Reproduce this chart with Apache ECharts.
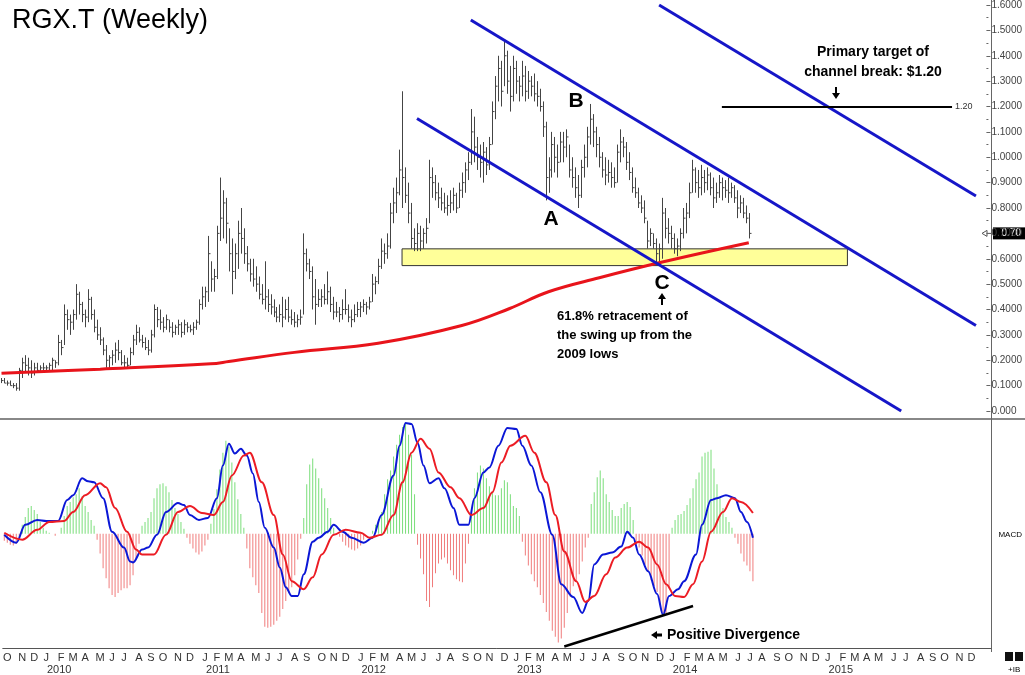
<!DOCTYPE html>
<html>
<head>
<meta charset="utf-8">
<title>RGX.T (Weekly)</title>
<script src="https://cdn.jsdelivr.net/npm/echarts@6.0.0/dist/echarts.min.js"></script>
<style>
  html, body { margin: 0; padding: 0; background: #fff; }
  #main { width: 1025px; height: 675px; }
</style>
</head>
<body>
<div id="main"></div>
<script>
// weekly bars, index 0 = week of 2009-09-25
var highs = [
  .13,.13,.12,.12,.11,.11,.17,.21,.22,.21,
  .20,.19,.19,.18,.19,.18,.19,.21,.20,.30,
  .28,.42,.40,.38,.40,.50,.47,.43,.40,.48,
  .45,.40,.36,.33,.29,.26,.22,.24,.27,.28,
  .24,.22,.21,.25,.30,.34,.33,.30,.29,.28,
  .32,.42,.41,.40,.37,.38,.36,.35,.34,.36,
  .35,.36,.35,.34,.35,.36,.44,.49,.49,.69,
  .59,.56,.73,.92,.87,.84,.72,.68,.66,.75,
  .80,.72,.65,.60,.60,.57,.53,.50,.59,.48,
  .46,.44,.41,.42,.45,.44,.45,.40,.39,.38,
  .40,.70,.64,.60,.57,.52,.48,.48,.50,.55,
  .49,.45,.43,.41,.44,.48,.42,.40,.42,.43,
  .43,.44,.43,.45,.54,.53,.60,.68,.66,.70,
  .82,.88,.92,1.03,1.26,.96,.90,.82,.72,.74,
  .73,.72,.76,.99,.96,.93,.90,.88,.86,.85,
  .87,.88,.86,.90,.94,.98,1.02,1.19,1.16,1.08,
  1.05,1.06,1.04,1.08,1.22,1.32,1.40,1.38,1.46,1.42,
  1.36,1.40,1.38,1.32,1.38,1.36,1.34,1.32,1.33,1.30,
  1.27,1.22,1.14,1.00,1.10,1.08,1.05,1.10,1.10,1.11,
  1.05,1.00,.96,.93,.99,1.05,1.12,1.21,1.17,1.12,
  1.08,1.02,1.00,.99,.98,.96,1.05,1.11,1.08,1.06,
  1.02,.96,.92,.88,.85,.83,.75,.72,.70,.68,
  .66,.84,.80,.76,.73,.70,.68,.72,.80,.82,
  .90,.99,.96,.95,.97,.95,.96,.94,.92,.90,
  .93,.92,.91,.92,.90,.89,.87,.85,.84,.81,
  .78
];
var lows = [
  .11,.11,.10,.10,.09,.08,.08,.13,.15,.14,
  .13,.14,.15,.15,.15,.16,.16,.16,.17,.18,
  .22,.26,.32,.30,.32,.36,.38,.35,.33,.35,
  .36,.31,.28,.26,.22,.17,.17,.18,.19,.20,
  .18,.17,.17,.18,.22,.26,.27,.25,.24,.22,
  .23,.29,.33,.32,.31,.32,.31,.29,.30,.30,
  .29,.30,.31,.31,.30,.32,.34,.40,.41,.43,
  .47,.47,.52,.67,.68,.66,.55,.46,.52,.56,
  .62,.58,.55,.51,.49,.47,.44,.42,.40,.39,
  .38,.37,.35,.35,.33,.36,.35,.34,.33,.33,
  .34,.38,.55,.52,.40,.34,.41,.41,.42,.42,
  .39,.36,.37,.35,.36,.38,.35,.33,.35,.37,
  .37,.39,.38,.40,.43,.46,.50,.56,.58,.60,
  .64,.74,.78,.85,.80,.82,.74,.64,.63,.63,
  .63,.64,.66,.74,.84,.83,.80,.79,.78,.77,
  .78,.79,.78,.80,.84,.86,.91,.97,.98,.95,
  .92,.90,.93,.95,1.05,1.15,1.22,1.20,1.28,1.25,
  1.18,1.22,1.25,1.22,1.24,1.22,1.23,1.24,1.22,1.20,
  1.18,1.08,.83,.86,.92,.94,.92,.98,.98,1.00,
  .92,.88,.84,.80,.84,.92,.96,1.05,1.04,1.00,
  .96,.92,.89,.90,.88,.88,.90,.98,1.00,.95,
  .91,.86,.84,.80,.78,.74,.64,.65,.64,.58,
  .58,.60,.68,.66,.64,.62,.61,.63,.68,.70,
  .76,.86,.86,.84,.85,.86,.87,.85,.80,.82,
  .84,.83,.84,.82,.84,.82,.76,.78,.76,.74,
  .68
];
var closes = [
  .12,.11,.11,.10,.10,.09,.16,.19,.18,.17,
  .15,.17,.16,.17,.17,.17,.18,.20,.19,.27,
  .25,.38,.36,.35,.38,.46,.42,.38,.37,.44,
  .38,.33,.30,.28,.24,.20,.21,.22,.24,.23,
  .19,.19,.18,.23,.28,.31,.28,.27,.25,.24,
  .30,.40,.36,.35,.33,.36,.33,.31,.33,.34,
  .31,.34,.33,.32,.33,.35,.42,.45,.47,.62,
  .52,.53,.70,.76,.82,.74,.62,.55,.62,.70,
  .68,.62,.58,.54,.52,.50,.46,.44,.45,.42,
  .41,.39,.37,.38,.37,.40,.37,.36,.35,.36,
  .37,.62,.58,.55,.45,.42,.44,.45,.44,.47,
  .42,.39,.39,.38,.40,.40,.37,.36,.38,.40,
  .41,.42,.41,.43,.50,.51,.57,.63,.62,.65,
  .78,.82,.86,.95,.92,.85,.78,.68,.66,.70,
  .67,.70,.72,.92,.90,.86,.84,.82,.80,.81,
  .82,.85,.80,.87,.90,.95,.98,1.10,1.04,1.00,
  .98,1.02,.97,1.05,1.18,1.28,1.35,1.26,1.40,1.30,
  1.24,1.35,1.30,1.28,1.32,1.26,1.30,1.28,1.25,1.24,
  1.20,1.12,.92,.95,1.05,1.00,.98,1.06,1.04,1.08,
  .95,.92,.88,.85,.96,1.00,1.08,1.15,1.10,1.05,
  1.00,.95,.93,.94,.92,.90,1.02,1.06,1.04,.98,
  .94,.88,.86,.82,.80,.76,.67,.70,.66,.62,
  .64,.78,.72,.70,.68,.64,.65,.70,.76,.78,
  .86,.95,.90,.88,.92,.90,.93,.88,.84,.86,
  .90,.88,.87,.86,.88,.84,.80,.82,.78,.76,
  .70
];

// moving average, read at [week index, price]
var maPoints = [
  [0,.149],[33,.165],[70,.186],[76,.195],[98,.231],[126,.267],[154,.337],
  [170,.404],[183,.47],[200,.525],[220,.584],[250,.663]
];

// MACD histogram, one bar per week (panel units)
var macdHist = [
  -7,-9,-11,-12,-10,-3,9,17,26,28,
  24,20,12,6,3,1,0,-2,0,6,
  18,28,32,37,40,46,38,28,22,14,
  8,-6,-20,-35,-45,-55,-62,-64,-60,-57,
  -55,-55,-52,-42,-25,-10,8,12,16,22,
  36,46,50,51,48,42,34,26,20,12,
  5,-4,-10,-15,-19,-21,-18,-12,-6,10,
  25,45,65,82,94,88,72,52,35,20,
  6,-15,-35,-44,-52,-60,-80,-94,-95,-94,
  -92,-88,-84,-76,-68,-60,-54,-42,-26,-5,
  16,50,70,76,66,56,46,36,26,16,
  6,0,-3,-8,-12,-14,-16,-17,-15,-12,
  -6,0,0,3,9,15,22,40,55,64,
  78,90,100,108,112,100,80,40,-11,-25,
  -41,-68,-74,-54,-40,-30,-26,-24,-30,-37,
  -42,-46,-48,-49,-30,-10,20,46,62,69,
  66,56,48,42,39,39,46,54,52,40,
  28,26,18,-8,-22,-32,-41,-48,-54,-62,
  -70,-79,-88,-98,-104,-110,-106,-95,-80,-64,
  -53,-48,-41,-28,-14,-4,30,42,57,64,
  56,40,32,24,18,18,26,30,32,27,
  14,-8,-14,-22,-31,-38,-47,-53,-59,-72,
  -80,-80,-55,6,14,19,20,23,29,36,
  46,55,62,78,82,83,85,66,50,36,
  26,17,12,6,-4,-10,-20,-28,-32,-38,
  -48
];

// MACD line and signal line, read at [week index, value]
var macdLine = [
  [0,-1],[4,-9],[7,9],[11,14],[14,13],[18,13],[21,34],[23,39],[26,56],[28,53],
  [30,52],[33,36],[36,2],[40,-14],[42,-28],[43,-29],[46,-16],[48,-14],[51,-1],[54,22],
  [58,31],[60,29],[62,19],[65,14],[68,16],[71,36],[73,69],[75,91],[77,81],[79,86],
  [81,79],[83,61],[85,32],[87,6],[90,-14],[92,-34],[94,-54],[96,-63],[98,-63],[100,-41],
  [103,-8],[105,-4],[108,2],[110,9],[113,2],[116,-4],[120,-9],[123,-4],[126,19],[130,59],
  [132,89],[134,112],[136,111],[138,92],[140,69],[142,51],[145,56],[147,46],[150,26],[152,9],
  [155,9],[157,36],[160,62],[162,67],[165,89],[168,107],[171,106],[173,89],[176,69],[179,42],
  [183,-1],[186,-51],[190,-64],[193,-80],[195,-68],[197,-31],[200,-21],[203,-19],[206,-13],[208,2],
  [210,-4],[212,-21],[215,-38],[218,-61],[220,-82],[222,-63],[225,-56],[227,-48],[231,-21],[233,9],
  [236,34],[238,36],[241,39],[244,36],[246,22],[248,12],[250,-4]
];
var signalLine = [
  [0,1],[6,-6],[11,4],[15,12],[20,13],[23,22],[27,39],[32,51],[34,47],[37,26],
  [41,2],[44,-16],[46,-21],[50,-21],[54,-1],[58,22],[62,28],[66,21],[70,19],[73,32],
  [76,59],[80,79],[82,82],[86,52],[90,19],[93,-21],[96,-48],[100,-56],[103,-44],[106,-21],
  [110,-1],[114,4],[119,1],[122,-4],[126,-1],[130,19],[133,52],[136,82],[139,96],[142,86],
  [145,62],[149,47],[152,36],[156,19],[160,26],[163,42],[166,72],[169,89],[174,99],[177,82],
  [181,52],[184,19],[187,-18],[191,-48],[194,-69],[197,-63],[201,-41],[204,-24],[208,-14],[212,-8],
  [215,-14],[218,-31],[221,-51],[224,-63],[227,-64],[230,-51],[233,-28],[236,2],[240,22],[243,36],
  [246,32],[250,21]
];

// drawn lines: [[i, price], [i, price]]
var channelLines = [
  [[219.5, 1.600], [325.5, 0.847]],
  [[157.2, 1.541], [325.5, 0.337]],
  [[138.8, 1.153], [301.4, 0.000]]
];
var targetLine = [[240.8, 1.20], [317.8, 1.20]];
var supportZone = [[133.5, 0.639], [282.5, 0.573]];
var divergenceLine = [[186.7, -114], [229.7, -73]];

var priceTicks = { min: 0, max: 1.6, step: 0.1 };
var monthLetters = ['J','F','M','A','M','J','J','A','S','O','N','D'];

var NWEEKS = 330;
var weeks = [];
var start = Date.UTC(2009, 8, 25);
for (var w = 0; w < NWEEKS; w++) {
  weeks.push(new Date(start + w * 7 * 86400000).toISOString().slice(0, 10));
}
function monthOf(i) { return +weeks[i].slice(5, 7) - 1; }
function isMonthStart(i) { return i === 0 || monthOf(i) !== monthOf(i - 1); }

var priceData = highs.map(function (h, i) { return [i, h, lows[i], closes[i]]; });

function renderBar(params, api) {
  var i = api.value(0);
  var top = api.coord([i, api.value(1)]);
  var bot = api.coord([i, api.value(2)]);
  var cls = api.coord([i, api.value(3)]);
  var x = Math.round(top[0]) + 0.5;
  return {
    type: 'group',
    children: [
      { type: 'line', shape: { x1: x, y1: top[1], x2: x, y2: bot[1] }, style: { stroke: '#444', lineWidth: 1 } },
      { type: 'line', shape: { x1: x, y1: cls[1], x2: x + 2, y2: cls[1] }, style: { stroke: '#444', lineWidth: 1 } }
    ]
  };
}

var FONT = 'Arial, "Liberation Sans", sans-serif';

function txt(x, y, s, font, align) {
  return { type: 'text', x: x, y: y, silent: true,
    style: { text: s, font: font, fill: '#000', align: align || 'left', verticalAlign: 'middle',
             textAlign: align || 'left', textVerticalAlign: 'middle' } };
}
function arrow(x, y, dir) {
  // small filled arrow, tip at (x, y)
  var pts;
  if (dir === 'up') pts = [[x, y], [x - 4, y + 6], [x - 1, y + 6], [x - 1, y + 12], [x + 1, y + 12], [x + 1, y + 6], [x + 4, y + 6]];
  else if (dir === 'down') pts = [[x, y], [x - 4, y - 6], [x - 1, y - 6], [x - 1, y - 12], [x + 1, y - 12], [x + 1, y - 6], [x + 4, y - 6]];
  else pts = [[x, y], [x + 6, y - 4], [x + 6, y - 1.5], [x + 11, y - 1.5], [x + 11, y + 1.5], [x + 6, y + 1.5], [x + 6, y + 4]];
  return { type: 'polygon', silent: true, shape: { points: pts }, style: { fill: '#000' } };
}

var annotations = [
  { type: 'line', silent: true, shape: { x1: 0, y1: 419, x2: 1025, y2: 419 }, style: { stroke: '#888', lineWidth: 2 } },
  { type: 'line', silent: true, shape: { x1: 991.5, y1: 0, x2: 991.5, y2: 652 }, style: { stroke: '#666', lineWidth: 1 } },
  txt(12, 21, 'RGX.T (Weekly)', 'normal 27px ' + FONT),
  txt(551, 219, 'A', 'bold 21px ' + FONT, 'center'),
  txt(576, 101, 'B', 'bold 21px ' + FONT, 'center'),
  txt(662, 283, 'C', 'bold 21px ' + FONT, 'center'),
  arrow(662, 293, 'up'),
  txt(873, 52, 'Primary target of', 'bold 14px ' + FONT, 'center'),
  txt(873, 72, 'channel break: $1.20', 'bold 14px ' + FONT, 'center'),
  arrow(836, 99, 'down'),
  txt(557, 316, '61.8% retracement of', 'bold 13px ' + FONT),
  txt(557, 335, 'the swing up from the', 'bold 13px ' + FONT),
  txt(557, 354, '2009 lows', 'bold 13px ' + FONT),
  arrow(651, 635, 'left'),
  txt(667, 635, 'Positive Divergence', 'bold 14px ' + FONT),
  txt(1022, 535, 'MACD', 'normal 8px ' + FONT, 'right'),
  { type: 'rect', silent: true, shape: { x: 1005, y: 652, width: 8, height: 9 }, style: { fill: '#111' } },
  { type: 'rect', silent: true, shape: { x: 1015, y: 652, width: 8, height: 9 }, style: { fill: '#111' } },
  txt(1008, 670, '+IB', 'normal 8px ' + FONT)
];

var chart = echarts.init(document.getElementById('main'));
chart.setOption({
  animation: false,
  backgroundColor: '#fff',
  textStyle: { fontFamily: FONT },
  grid: [
    { left: 0, right: 34, top: 3, bottom: 264 },
    { left: 0, right: 34, top: 419, bottom: 25 }
  ],
  xAxis: [
    { type: 'category', gridIndex: 0, data: weeks, show: false },
    { type: 'category', gridIndex: 1, data: weeks,
      axisLine: { onZero: false, lineStyle: { color: '#555', width: 1 } },
      axisTick: { alignWithLabel: true, length: 4, interval: function (i) { return isMonthStart(i); }, lineStyle: { color: '#555' } },
      axisLabel: {
        interval: function (i) { return isMonthStart(i); },
        margin: 3,
        formatter: function (v) {
          var m = +v.slice(5, 7) - 1;
          var s = '{m|' + monthLetters[m] + '}';
          if (m === 0) s += '\n{y|' + v.slice(0, 4) + '}';
          return s;
        },
        rich: {
          m: { fontSize: 11, color: '#333', lineHeight: 12, fontFamily: FONT },
          y: { fontSize: 11, color: '#333', lineHeight: 12, fontFamily: FONT, padding: [0, 0, 0, 26] }
        }
      }
    }
  ],
  yAxis: [
    { type: 'value', gridIndex: 0, position: 'right', min: priceTicks.min, max: priceTicks.max, interval: priceTicks.step,
      axisLine: { show: false },
      axisTick: { show: true, length: 4, lineStyle: { color: '#666' } },
      minorTick: { show: true, splitNumber: 2, length: 2, lineStyle: { color: '#666' } },
      splitLine: { show: false },
      axisLabel: { margin: 5, fontSize: 10, color: '#444',
        formatter: function (v) { return v === 0 ? '0.000' : v.toFixed(4); } } },
    { type: 'value', gridIndex: 1, position: 'right', min: -116, max: 116,
      axisLine: { show: false }, axisTick: { show: false }, axisLabel: { show: false }, splitLine: { show: false } }
  ],
  series: [
    { name: 'zone', type: 'line', xAxisIndex: 0, yAxisIndex: 0, data: [], z: 1, silent: true,
      markArea: { silent: true, itemStyle: { color: '#ffff99', borderColor: '#333', borderWidth: 1 },
        data: [[{ coord: supportZone[0] }, { coord: supportZone[1] }]] } },
    { name: 'price', type: 'custom', xAxisIndex: 0, yAxisIndex: 0, renderItem: renderBar,
      data: priceData, encode: { x: 0, y: [1, 2, 3] }, z: 2, silent: true },
    { name: 'ma', type: 'line', xAxisIndex: 0, yAxisIndex: 0, data: maPoints, smooth: 0.4, showSymbol: false,
      lineStyle: { color: '#e8141b', width: 3 }, z: 3, silent: true },
    { name: 'channels', type: 'line', xAxisIndex: 0, yAxisIndex: 0, data: [], z: 4, silent: true,
      markLine: { silent: true, symbol: ['none', 'none'], label: { show: false },
        lineStyle: { color: '#1616c8', width: 3, type: 'solid' },
        data: channelLines.map(function (l) { return [{ coord: l[0] }, { coord: l[1] }]; }) } },
    { name: 'target', type: 'line', xAxisIndex: 0, yAxisIndex: 0, data: [], z: 5, silent: true,
      markLine: { silent: true, symbol: ['none', 'none'],
        lineStyle: { color: '#000', width: 2, type: 'solid' },
        label: { show: true, position: 'end', formatter: '1.20', fontSize: 9, color: '#333', distance: 3 },
        data: [[{ coord: targetLine[0] }, { coord: targetLine[1] }]] } },
    { name: 'hist', type: 'bar', xAxisIndex: 1, yAxisIndex: 1, barWidth: 1, silent: true,
      data: macdHist.map(function (v) { return { value: v, itemStyle: { color: v >= 0 ? '#7ade7a' : '#f07c7c' } }; }) },
    { name: 'macd', type: 'line', xAxisIndex: 1, yAxisIndex: 1, data: macdLine, smooth: 0.35, smoothMonotone: 'x', showSymbol: false,
      lineStyle: { color: '#0b17d6', width: 2 }, z: 3, silent: true },
    { name: 'signal', type: 'line', xAxisIndex: 1, yAxisIndex: 1, data: signalLine, smooth: 0.35, smoothMonotone: 'x', showSymbol: false,
      lineStyle: { color: '#ec1c24', width: 2 }, z: 3, silent: true },
    { name: 'divergence', type: 'line', xAxisIndex: 1, yAxisIndex: 1, data: [], z: 4, silent: true,
      markLine: { silent: true, symbol: ['none', 'none'], label: { show: false },
        lineStyle: { color: '#000', width: 2.5, type: 'solid' },
        data: [[{ coord: divergenceLine[0] }, { coord: divergenceLine[1] }]] } }
  ],
  graphic: annotations
});

// last-price box on the right axis
var lastY = chart.convertToPixel({ yAxisIndex: 0 }, closes[closes.length - 1]);
annotations.push(
  { type: 'rect', silent: true, shape: { x: 993, y: lastY - 6, width: 32, height: 12 }, style: { fill: '#000' } },
  { type: 'text', silent: true, x: 1021, y: lastY,
    style: { text: '0.70', font: 'normal 10px ' + FONT, fill: '#fff', align: 'right', verticalAlign: 'middle', textAlign: 'right', textVerticalAlign: 'middle' } },
  { type: 'polygon', silent: true, shape: { points: [[982, lastY], [987, lastY - 3], [987, lastY + 3]] }, style: { fill: 'none', stroke: '#555', lineWidth: 1 } },
  { type: 'line', silent: true, shape: { x1: 987, y1: lastY, x2: 991, y2: lastY }, style: { stroke: '#555', lineWidth: 1 } }
);
chart.setOption({ graphic: annotations });
</script>
</body>
</html>
